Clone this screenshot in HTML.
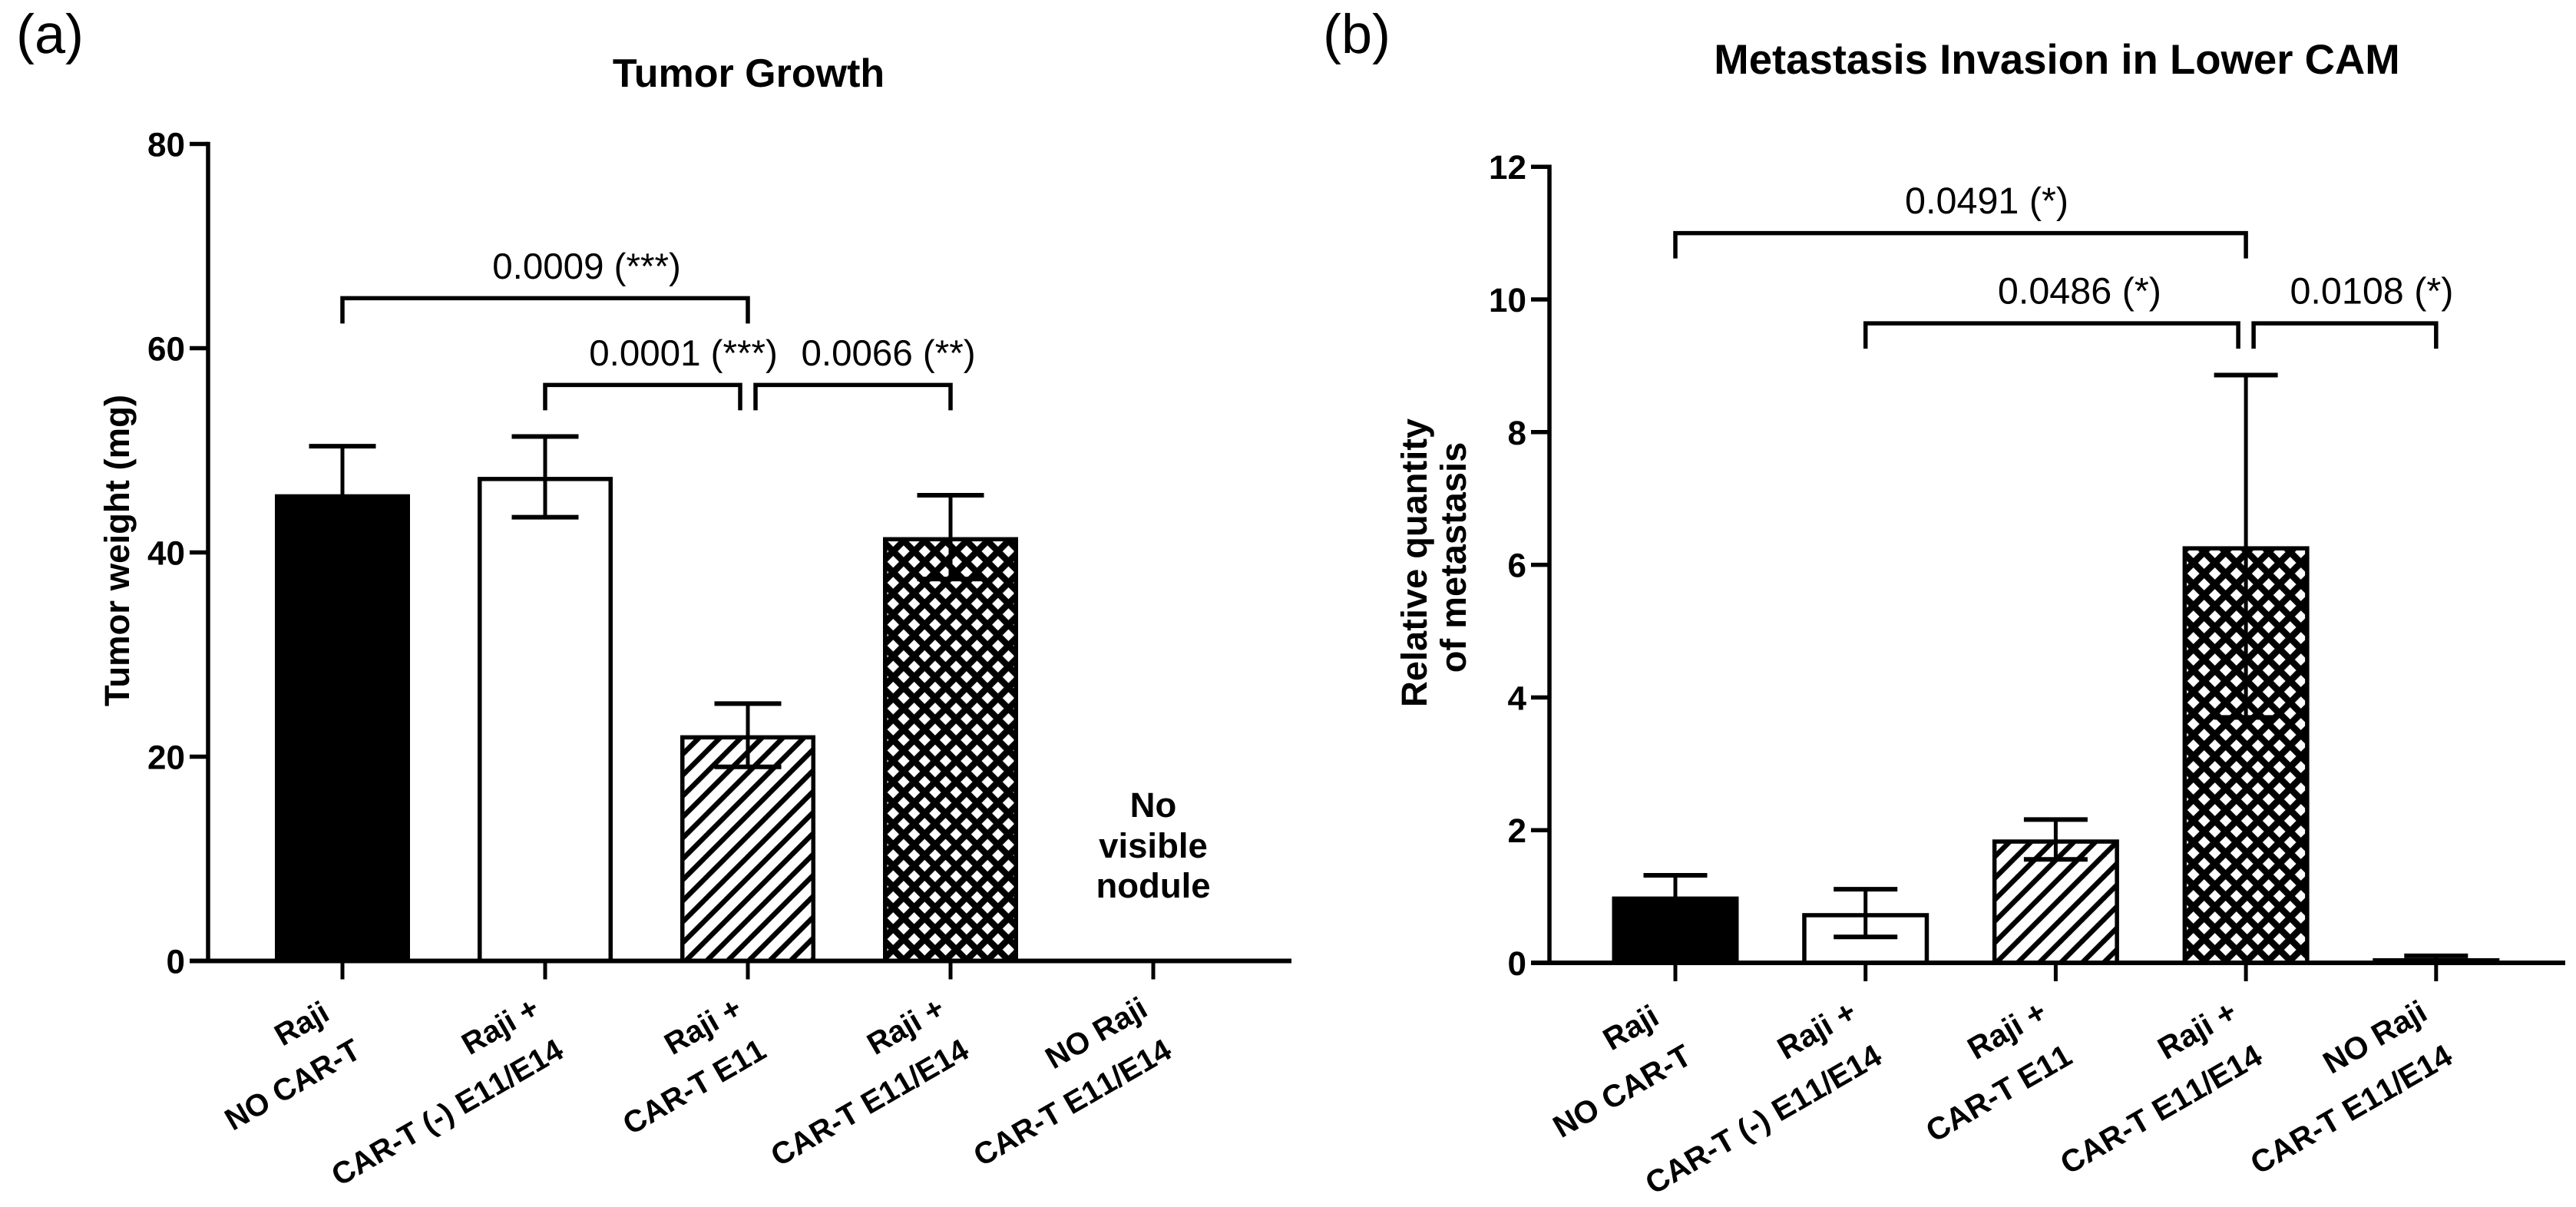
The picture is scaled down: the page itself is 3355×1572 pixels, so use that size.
<!DOCTYPE html>
<html lang="en">
<head>
<meta charset="utf-8">
<title>Tumor Growth and Metastasis Invasion</title>
<style>
html,body{margin:0;padding:0;background:#fff}
svg{display:block}
text{font-family:"Liberation Sans",Arial,sans-serif;fill:#000;text-rendering:geometricPrecision}
.b{font-weight:bold}
</style>
</head>
<body>
<svg id="figure" xmlns="http://www.w3.org/2000/svg" width="3355" height="1572" viewBox="0 0 3355 1572">
<defs>
<pattern id="stripe-a" patternUnits="userSpaceOnUse" width="27.3" height="27.3" patternTransform="translate(892 1006.7)">
<rect width="27.3" height="27.3" fill="#fff"/>
<path d="M-2 29.3L29.3 -2M-2 2L2 -2M25.3 29.3L29.3 25.3" stroke="#000" stroke-width="6.6" fill="none"/>
</pattern>
<pattern id="cross-a" patternUnits="userSpaceOnUse" width="27.3" height="27.3" patternTransform="translate(1163.3 731.7)">
<rect width="27.3" height="27.3" fill="#fff"/>
<path d="M-10 23.65L23.65 -10M3.65 37.3L37.3 3.65M3.65 -10L37.3 23.65M-10 3.65L23.65 37.3" stroke="#000" stroke-width="8.4" fill="none"/>
</pattern>
<pattern id="stripe-b" patternUnits="userSpaceOnUse" width="28" height="28" patternTransform="translate(2600 1141.7)">
<rect width="28" height="28" fill="#fff"/>
<path d="M-2 30L30 -2M-2 2L2 -2M26 30L30 26" stroke="#000" stroke-width="6.6" fill="none"/>
</pattern>
<pattern id="cross-b" patternUnits="userSpaceOnUse" width="28" height="28" patternTransform="translate(2856.7 1055)">
<rect width="28" height="28" fill="#fff"/>
<path d="M-10 24L24 -10M4 38L38 4M4 -10L38 24M-10 4L24 38" stroke="#000" stroke-width="8.6" fill="none"/>
</pattern>
</defs>

<text x="21" y="69" font-size="72">(a)</text>
<text x="1723" y="69" font-size="72">(b)</text>
<text class="b" x="975" y="113" font-size="52" text-anchor="middle">Tumor Growth</text>
<text class="b" x="2679" y="96" font-size="54.5" text-anchor="middle">Metastasis Invasion in Lower CAM</text>

<text class="b" transform="translate(168 717) rotate(-90)" font-size="45.5" text-anchor="middle">Tumor weight (mg)</text>
<text class="b" transform="translate(1858 733) rotate(-90)" font-size="47" text-anchor="middle">Relative quantity</text>
<text class="b" transform="translate(1909 726) rotate(-90)" font-size="47" text-anchor="middle">of metastasis</text>

<g>
<text class="b" x="1502" y="1064" font-size="45.5" text-anchor="middle">No</text>
<text class="b" x="1502" y="1117" font-size="45.5" text-anchor="middle">visible</text>
<text class="b" x="1502" y="1169" font-size="45.5" text-anchor="middle">nodule</text>
</g>
</svg>

<script>
// Shared categories
const categoryLine1 = ['Raji\u00A0', 'Raji +', 'Raji +', 'Raji +', 'NO Raji'];
const categoryLine2 = ['NO CAR-T', 'CAR-T (-) E11/E14', 'CAR-T E11', 'CAR-T E11/E14', 'CAR-T E11/E14'];

// Panel (a): tumor weight (mg)
const tumorMeans = [45.7, 47.4, 22.1, 41.5, 0];
const tumorErrors = [4.7, 3.95, 3.1, 4.1, 0];
const tumorTicks = [0, 20, 40, 60, 80];
const tumorCompareFrom = [0, 1, 2];
const tumorCompareTo = [2, 2, 3];
const tumorCompareLevel = [64.9, 56.4, 56.4];
const tumorCompareLabels = ['0.0009 (***)', '0.0001 (***)', '0.0066 (**)'];

// Panel (b): relative quantity of metastasis
const metastasisMeans = [1.0, 0.75, 1.86, 6.28, 0.07];
const metastasisErrors = [0.32, 0.36, 0.3, 2.58, 0.035];
const metastasisTicks = [0, 2, 4, 6, 8, 10, 12];
const metastasisCompareFrom = [0, 1, 3];
const metastasisCompareTo = [3, 3, 4];
const metastasisCompareLevel = [11.0, 9.64, 9.64];
const metastasisCompareLabels = ['0.0491 (*)', '0.0486 (*)', '0.0108 (*)'];

const SVG_NS = 'http://www.w3.org/2000/svg';
const figure = document.getElementById('figure');

function make(tag, attrs, parent) {
  const node = document.createElementNS(SVG_NS, tag);
  for (const key in attrs) node.setAttribute(key, attrs[key]);
  parent.appendChild(node);
  return node;
}

function drawPanel(cfg) {
  const panel = make('g', {}, figure);
  
  
  const yScale = v => cfg.y0 - v * cfg.yUnit;
  const xScale = i => cfg.x0 + i * cfg.xStep;
  const yMax = cfg.ticks[cfg.ticks.length - 1];

  // bars and error bars
  cfg.means.forEach((mean, i) => {
    if (mean <= 0) return;
    const cx = xScale(i);
    const top = yScale(mean);
    const bar = make('rect', {
      x: cx - cfg.barHalf + 2.75,
      y: top + 2.75,
      width: 2 * cfg.barHalf - 5.5,
      height: Math.max(cfg.y0 - top - 2.75, 0.5),
      fill: cfg.fills[i],
      stroke: '#000',
      'stroke-width': 5.5
    }, panel);
    
    

    const err = cfg.errors[i];
    const hi = yScale(mean + err);
    const lo = yScale(mean - err);
    const stem = make('path', {
      d: 'M' + cx + ' ' + lo + 'V' + hi,
      stroke: '#000',
      'stroke-width': 5,
      fill: 'none'
    }, panel);
    
    
    const caps = make('path', {
      d: 'M' + (cx - cfg.capHalf) + ' ' + hi + 'H' + (cx + cfg.capHalf) +
         'M' + (cx - cfg.capHalf) + ' ' + lo + 'H' + (cx + cfg.capHalf),
      stroke: '#000',
      'stroke-width': 6,
      fill: 'none'
    }, panel);
    
    
  });

  // y axis
  const yAxis = make('path', {
    d: 'M' + cfg.axisX + ' ' + yScale(yMax) + 'V' + cfg.y0,
    stroke: '#000', 'stroke-width': 5.5, fill: 'none', 'stroke-linecap': 'square'
  }, panel);
  
  

  cfg.ticks.forEach(t => {
    const yy = yScale(t);
    const tick = make('path', {
      d: 'M' + (cfg.axisX - 24) + ' ' + yy + 'H' + cfg.axisX,
      stroke: '#000', 'stroke-width': 5.5, fill: 'none'
    }, panel);
    
    
    const label = make('text', {
      x: cfg.tickLabelX, y: yy + 16, 'font-size': 44, 'font-weight': 'bold', 'text-anchor': 'end'
    }, panel);
    label.textContent = String(t);
    
    
  });

  // x axis
  const xAxis = make('path', {
    d: 'M' + (cfg.axisX - 24) + ' ' + cfg.y0 + 'H' + cfg.axisEnd,
    stroke: '#000', 'stroke-width': 6, fill: 'none'
  }, panel);
  
  

  categoryLine1.forEach((line1, i) => {
    const cx = xScale(i);
    const tick = make('path', {
      d: 'M' + cx + ' ' + cfg.y0 + 'V' + (cfg.y0 + 24),
      stroke: '#000', 'stroke-width': 5, fill: 'none'
    }, panel);
    
    

    const group = make('g', {
      transform: 'translate(' + (cx + cfg.catDx) + ' ' + cfg.catY + ') rotate(-30)',
      'font-size': cfg.catFont, 'font-weight': 'bold', 'text-anchor': 'end',
      style: 'font-kerning:none'
    }, panel);
    
    
    const first = make('text', { x: 0, y: 0 }, group);
    first.textContent = line1;
    const second = make('text', { x: 0, y: cfg.catGap }, group);
    second.textContent = categoryLine2[i];
  });

  // significance brackets
  cfg.compareFrom.forEach((from, i) => {
    const to = cfg.compareTo[i];
    const level = cfg.compareLevel[i];
    let x1 = xScale(from);
    let x2 = xScale(to);
    cfg.compareFrom.forEach((otherFrom, j) => {
      if (j === i || cfg.compareLevel[j] !== level) return;
      if (cfg.compareTo[j] === from) x1 += 10;
      if (otherFrom === to) x2 -= 10;
    });
    const yy = yScale(level);
    const bracket = make('path', {
      d: 'M' + x1 + ' ' + (yy + 33) + 'V' + yy + 'H' + x2 + 'V' + (yy + 33),
      stroke: '#000', 'stroke-width': 5.5, fill: 'none'
    }, panel);
    
    
    const label = make('text', {
      x: (xScale(from) + xScale(to)) / 2 + cfg.labelDx[i],
      y: yy - 25.5,
      'font-size': cfg.labelFont,
      'text-anchor': 'middle'
    }, panel);
    label.textContent = cfg.compareLabels[i];
    
    
  });
}

drawPanel({
  name: 'tumor-growth-chart',
  means: tumorMeans, errors: tumorErrors, ticks: tumorTicks,
  compareFrom: tumorCompareFrom, compareTo: tumorCompareTo,
  compareLevel: tumorCompareLevel, compareLabels: tumorCompareLabels,
  fills: ['#000', '#fff', 'url(#stripe-a)', 'url(#cross-a)', '#000'],
  x0: 446, xStep: 264, y0: 1251.5, yUnit: 13.3,
  barHalf: 88, capHalf: 43.5,
  axisX: 271, axisEnd: 1682, tickLabelX: 241,
  catDx: -5, catY: 1321, catFont: 40, catGap: 63,
  labelFont: 47.5, labelDx: [54, 48, 51]
});

drawPanel({
  name: 'metastasis-chart',
  means: metastasisMeans, errors: metastasisErrors, ticks: metastasisTicks,
  compareFrom: metastasisCompareFrom, compareTo: metastasisCompareTo,
  compareLevel: metastasisCompareLevel, compareLabels: metastasisCompareLabels,
  fills: ['#000', '#fff', 'url(#stripe-b)', 'url(#cross-b)', '#000'],
  x0: 2182, xStep: 247.7, y0: 1254, yUnit: 86.4,
  barHalf: 82.5, capHalf: 41.5,
  axisX: 2018, axisEnd: 3341, tickLabelX: 1988,
  catDx: -9, catY: 1326, catFont: 40.8, catGap: 66,
  labelFont: 48.5, labelDx: [34, 31, 40]
});
</script>
</body>
</html>
